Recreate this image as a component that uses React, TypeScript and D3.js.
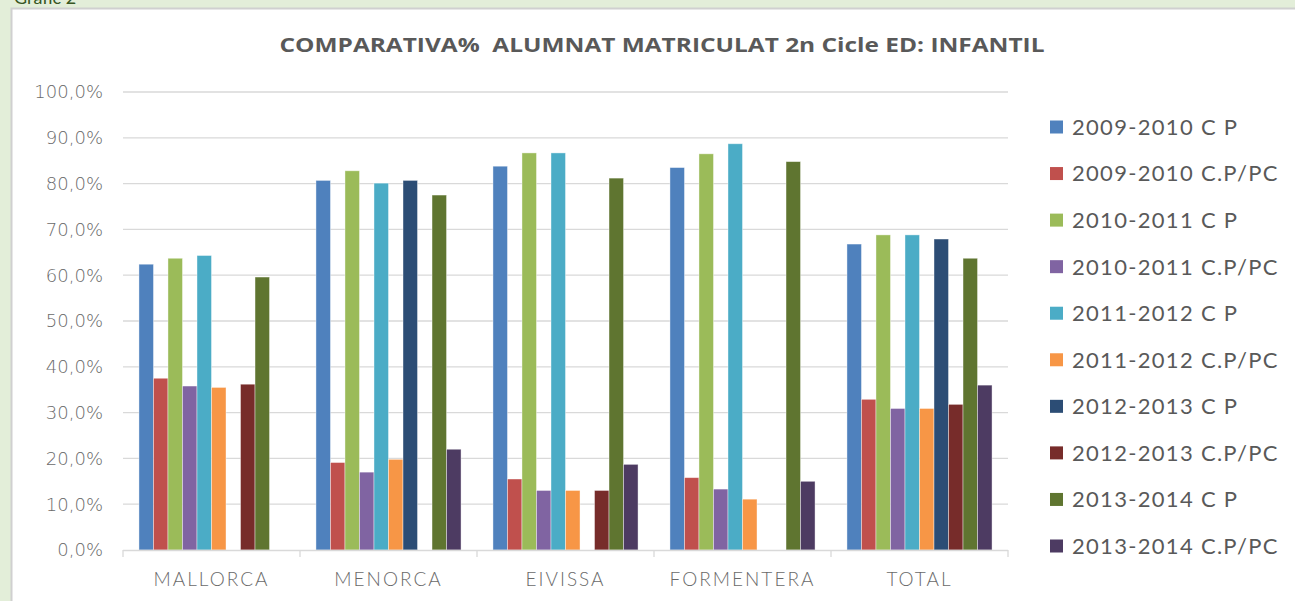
import { useEffect, useRef } from 'react';
import * as d3 from 'd3';

const categories = ['MALLORCA', 'MENORCA', 'EIVISSA', 'FORMENTERA', 'TOTAL'];
const seriesNames = [
  '2009-2010 C P',
  '2009-2010 C.P/PC',
  '2010-2011 C P',
  '2010-2011 C.P/PC',
  '2011-2012 C P',
  '2011-2012 C.P/PC',
  '2012-2013 C P',
  '2012-2013 C.P/PC',
  '2013-2014 C P',
  '2013-2014 C.P/PC',
];
const seriesColors = [
  '#4f81bd', '#c0504d', '#9bbb59', '#8064a2', '#4bacc6',
  '#f79646', '#2c4d75', '#772c2a', '#5f7530', '#4d3b62',
];
// one row per series, values per category (null = no bar)
const v0910cp = [62.4, 80.7, 83.8, 83.5, 66.8];
const v0910pc = [37.5, 19.1, 15.5, 15.8, 32.9];
const v1011cp = [63.7, 82.8, 86.7, 86.5, 68.8];
const v1011pc = [35.8, 17.0, 13.0, 13.3, 30.9];
const v1112cp = [64.3, 80.1, 86.7, 88.7, 68.8];
const v1112pc = [35.5, 19.8, 13.0, 11.1, 30.9];
const v1213cp = [null, 80.7, null, null, 67.9];
const v1213pc = [36.2, null, 13.0, null, 31.8];
const v1314cp = [59.6, 77.5, 81.2, 84.8, 63.7];
const v1314pc = [null, 22.0, 18.7, 15.0, 36.0];
const seriesValues = [v0910cp, v0910pc, v1011cp, v1011pc, v1112cp, v1112pc, v1213cp, v1213pc, v1314cp, v1314pc];
const yTicks = [0, 10, 20, 30, 40, 50, 60, 70, 80, 90, 100];
const title = 'COMPARATIVA%  ALUMNAT MATRICULAT 2n Cicle ED: INFANTIL';

const W = 1295;
const H = 601;

const App = () => {
  const svgRef = useRef<SVGSVGElement>(null);

  useEffect(() => {
    const svg = d3.select(svgRef.current);
    svg.selectAll('*').remove();

    // outer sheet background + chart frame
    svg.append('rect').attr('width', W).attr('height', H).attr('fill', '#e3eed9');
    svg.append('text')
      .attr('x', 14).attr('y', 4)
      .attr('font-family', 'Lato, sans-serif').attr('font-size', 18)
      .attr('fill', '#375623')
      .text('Gràfic 2');
    svg.append('rect')
      .attr('x', 11.5).attr('y', 8.5).attr('width', 1290).attr('height', 600)
      .attr('fill', '#ffffff').attr('stroke', '#d0d0d0').attr('stroke-width', 2);

    svg.append('text')
      .attr('x', 662).attr('y', 52)
      .attr('text-anchor', 'middle')
      .attr('font-family', '"Liberation Sans Narrow", "Open Sans", sans-serif')
      .attr('font-size', 19)
      .attr('font-weight', 'bold')
      .attr('fill', '#595959')
      .attr('textLength', 765)
      .attr('lengthAdjust', 'spacingAndGlyphs')
      .style('white-space', 'pre')
      .text(title);

    const x0 = d3.scaleBand<string>().domain(categories).range([123, 1008]).padding(0);
    const x1 = d3.scaleBand<string>().domain(seriesNames).range([0, x0.bandwidth()])
      .paddingInner(0).paddingOuter(1.1);
    const y = d3.scaleLinear().domain([0, 100]).range([550, 92]);

    const g = svg.append('g');
    g.selectAll('line.grid')
      .data(yTicks.slice(1))
      .enter().append('line')
      .attr('class', 'grid')
      .attr('x1', 123).attr('x2', 1008)
      .attr('y1', (d) => y(d)).attr('y2', (d) => y(d))
      .attr('stroke', '#d9d9d9').attr('stroke-width', 1.3);

    g.selectAll('text.ytick')
      .data(yTicks)
      .enter().append('text')
      .attr('class', 'ytick')
      .attr('x', 103).attr('y', (d) => y(d))
      .attr('dy', '0.36em')
      .attr('text-anchor', 'end')
      .attr('font-family', '"DejaVu Sans", sans-serif')
      .attr('font-size', 18)
      .attr('font-weight', 300)
      .attr('fill', '#6a6a6a')
      .text((d) => d3.format('.1f')(d).replace('.', ',') + '%');

    const cells = seriesNames.flatMap((s, si) =>
      categories.map((c, ci) => ({ s, si, c, v: seriesValues[si][ci] }))
    ).filter((d) => d.v !== null);

    g.selectAll('rect.bar')
      .data(cells)
      .enter().append('rect')
      .attr('class', 'bar')
      .attr('x', (d) => (x0(d.c) as number) + (x1(d.s) as number))
      .attr('y', (d) => y(d.v as number))
      .attr('width', x1.bandwidth())
      .attr('height', (d) => y(0) - y(d.v as number))
      .attr('fill', (d) => seriesColors[d.si])
      .attr('stroke', '#ffffff').attr('stroke-opacity', 0.5).attr('stroke-width', 0.8);

    // category axis
    g.append('line')
      .attr('x1', 123).attr('x2', 1008).attr('y1', 550.5).attr('y2', 550.5)
      .attr('stroke', '#d9d9d9').attr('stroke-width', 1.3);
    const bounds = categories.map((c) => x0(c) as number).concat([1008]);
    g.selectAll('line.xtick')
      .data(bounds)
      .enter().append('line')
      .attr('class', 'xtick')
      .attr('x1', (d) => d).attr('x2', (d) => d)
      .attr('y1', 550).attr('y2', 557)
      .attr('stroke', '#d9d9d9').attr('stroke-width', 1.3);
    g.selectAll('text.xlab')
      .data(categories)
      .enter().append('text')
      .attr('class', 'xlab')
      .attr('x', (d) => (x0(d) as number) + x0.bandwidth() / 2)
      .attr('y', 586)
      .attr('text-anchor', 'middle')
      .attr('font-family', 'Lato, sans-serif')
      .attr('font-size', 19)
      .attr('font-weight', 300)
      .attr('letter-spacing', 2)
      .attr('fill', '#6a6a6a')
      .text((d) => d);

    // legend
    const leg = svg.append('g');
    const ly = d3.scaleLinear().domain([0, seriesNames.length - 1]).range([127, 546]);
    seriesNames.forEach((s, i) => {
      leg.append('rect')
        .attr('x', 1050).attr('y', ly(i) - 6.5).attr('width', 13).attr('height', 13)
        .attr('fill', seriesColors[i]);
      leg.append('text')
        .attr('x', 1072).attr('y', ly(i))
        .attr('dy', '0.36em')
        .attr('font-family', 'Lato, sans-serif')
        .attr('font-size', 22)
        .attr('letter-spacing', 1.3)
        .attr('fill', '#595959')
        .text(s);
    });
  }, []);

  return (
    <svg
      ref={svgRef}
      width={W}
      height={H}
      style={{ position: 'absolute', left: 0, top: 0, display: 'block' }}
    />
  );
};

export default App;
